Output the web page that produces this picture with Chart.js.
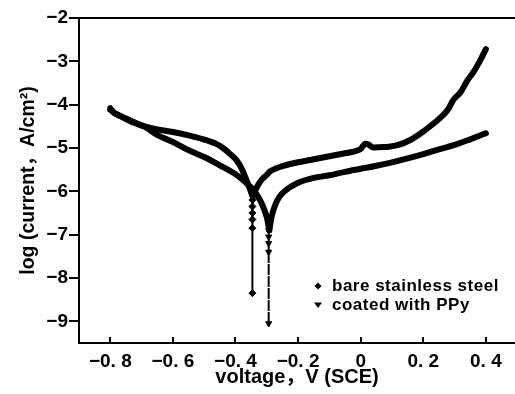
<!DOCTYPE html>
<html>
<head>
<meta charset="utf-8">
<script src="https://cdn.jsdelivr.net/npm/chart.js@4.4.0/dist/chart.umd.min.js"></script>
<style>
  html, body { margin: 0; padding: 0; background: #fff; }
  #wrap { width: 515px; height: 394px; }
</style>
</head>
<body>
<div id="wrap"><canvas id="tafel" width="515" height="394"></canvas></div>
<script>
// Tafel curves: bare steel vs. steel coated with PPy
const xTicks = [-0.8, -0.6, -0.4, -0.2, 0, 0.2, 0.4];
const yTicks = [-9, -8, -7, -6, -5, -4, -3, -2];
const seriesNames = ['bare stainless steel', 'coated with PPy'];

// bare stainless steel — cathodic branch
const bareCathV = [-0.800, -0.790, -0.770, -0.750, -0.720, -0.685, -0.650, -0.600, -0.550, -0.493, -0.460, -0.440, -0.420, -0.397, -0.380, -0.365, -0.355, -0.345];
const bareCathI = [-4.08, -4.18, -4.26, -4.33, -4.43, -4.51, -4.57, -4.63, -4.71, -4.82, -4.91, -5.00, -5.12, -5.28, -5.48, -5.74, -5.92, -6.13];
// bare stainless steel — anodic branch
const bareAnodV = [-0.345, -0.338, -0.330, -0.315, -0.300, -0.290, -0.270, -0.250, -0.200, -0.150, -0.100, -0.050, -0.020, 0.000, 0.015, 0.025, 0.040, 0.060, 0.090, 0.120, 0.160, 0.200, 0.230, 0.255, 0.280, 0.295, 0.320, 0.340, 0.360, 0.380, 0.400];
const bareAnodI = [-6.10, -6.00, -5.88, -5.72, -5.62, -5.54, -5.47, -5.42, -5.33, -5.26, -5.19, -5.12, -5.08, -5.02, -4.90, -4.92, -4.99, -4.98, -4.97, -4.93, -4.81, -4.62, -4.45, -4.30, -4.10, -3.90, -3.70, -3.45, -3.25, -3.00, -2.72];
// bare stainless steel — points at the corrosion potential
const bareDipV = [-0.346, -0.346, -0.346, -0.346, -0.346, -0.346, -0.346];
const bareDipI = [-6.05, -6.20, -6.35, -6.50, -6.65, -6.85, -8.35];

// coated with PPy — cathodic branch
const ppyCathV = [-0.800, -0.780, -0.750, -0.700, -0.685, -0.650, -0.600, -0.550, -0.493, -0.450, -0.397, -0.365, -0.345, -0.330, -0.315, -0.300, -0.292];
const ppyCathI = [-4.12, -4.22, -4.32, -4.48, -4.53, -4.70, -4.86, -5.05, -5.23, -5.40, -5.62, -5.81, -5.95, -6.10, -6.30, -6.60, -6.90];
// coated with PPy — anodic branch
const ppyAnodV = [-0.292, -0.285, -0.275, -0.260, -0.240, -0.220, -0.200, -0.150, -0.100, -0.050, 0.000, 0.050, 0.100, 0.150, 0.200, 0.250, 0.300, 0.350, 0.400];
const ppyAnodI = [-6.90, -6.60, -6.35, -6.13, -5.98, -5.88, -5.80, -5.69, -5.63, -5.55, -5.48, -5.41, -5.33, -5.24, -5.14, -5.03, -4.93, -4.80, -4.66];
// coated with PPy — points at the corrosion potential
const ppyDipV = [-0.294, -0.294, -0.294, -0.294, -0.294, -0.294];
const ppyDipI = [-6.75, -6.90, -7.05, -7.20, -7.40, -9.05];

const FONT = '"Liberation Sans", Arial, "Noto Sans CJK SC", sans-serif';
const toXY = (xs, ys) => xs.map((x, i) => ({ x, y: ys[i] }));
const minus = v => (v < 0 ? '\u2212' : '');

const curve = (label, xs, ys) => ({
    label, data: toXY(xs, ys), showLine: true,
    borderColor: '#000', borderWidth: 6, borderCapStyle: 'round', borderJoinStyle: 'round',
    pointRadius: 0, cubicInterpolationMode: 'monotone',
});

// tramo vertical en el potencial de corrosión; el último segmento puede ir punteado
const dip = (label, xs, ys, style, rot, lastDash) => ({
    label, data: toXY(xs, ys), showLine: true,
    borderColor: '#000', borderWidth: 2,
    segment: { borderDash: c => (c.p1DataIndex === ys.length - 1 ? lastDash : undefined) },
    pointStyle: style, rotation: rot, pointRadius: 3.5,
    pointBackgroundColor: '#000', pointBorderColor: '#000', pointBorderWidth: 1,
});

// marco superior, ticks del eje x hacia dentro y leyenda
const framePlugin = {
    id: 'frame',
    afterDraw(chart) {
        const { ctx, chartArea: a, scales: { x } } = chart;
        ctx.save();
        ctx.strokeStyle = '#000';
        ctx.lineWidth = 2;
        ctx.beginPath();
        ctx.moveTo(a.left, a.top);
        ctx.lineTo(a.right, a.top);
        xTicks.forEach(v => {
            const px = Math.round(x.getPixelForValue(v));
            ctx.moveTo(px, a.bottom);
            ctx.lineTo(px, a.bottom - 6);
        });
        ctx.stroke();

        // leyenda
        const mx = a.left + 239, tx = a.left + 253;
        const y1 = 286, y2 = 305;
        ctx.fillStyle = '#000';
        ctx.beginPath();
        ctx.moveTo(mx, y1 - 3.5); ctx.lineTo(mx + 3.5, y1); ctx.lineTo(mx, y1 + 3.5); ctx.lineTo(mx - 3.5, y1);
        ctx.closePath(); ctx.fill();
        ctx.beginPath();
        ctx.moveTo(mx - 4, y2 - 2.5); ctx.lineTo(mx + 4, y2 - 2.5); ctx.lineTo(mx, y2 + 3);
        ctx.closePath(); ctx.fill();
        ctx.font = 'bold 17px ' + FONT;
        ctx.letterSpacing = '0.5px';
        ctx.textBaseline = 'middle';
        ctx.textAlign = 'left';
        ctx.fillText(seriesNames[0], tx, y1);
        ctx.fillText(seriesNames[1], tx, y2);
        ctx.restore();
    }
};

new Chart(document.getElementById('tafel'), {
    type: 'scatter',
    data: {
        datasets: [
            curve(seriesNames[0], bareCathV, bareCathI),
            curve(seriesNames[0], bareAnodV, bareAnodI),
            dip(seriesNames[0], bareDipV, bareDipI, 'rectRot', 0, undefined),
            curve(seriesNames[1], ppyCathV, ppyCathI),
            curve(seriesNames[1], ppyAnodV, ppyAnodI),
            dip(seriesNames[1], ppyDipV, ppyDipI, 'triangle', 180, [7, 5]),
        ]
    },
    options: {
        responsive: false,
        animation: false,
        layout: { autoPadding: false, padding: { top: 18, right: 0, left: 0, bottom: 0 } },
        plugins: { legend: { display: false }, tooltip: { enabled: false } },
        scales: {
            x: {
                min: -0.9, max: 0.493,
                afterBuildTicks: s => { s.ticks = xTicks.map(value => ({ value })); },
                afterFit: s => { s.height = 51; s.paddingLeft = 0; s.paddingRight = 0; },
                grid: { display: false, drawTicks: false },
                border: { color: '#000', width: 2 },
                ticks: {
                    color: '#000', padding: 7, maxRotation: 0,
                    font: { family: FONT, size: 19, weight: 'bold' },
                    callback: v => v === 0 ? '0' : minus(v) + Math.abs(v).toFixed(1).replace('.', '. ')
                },
                title: {
                    display: true, text: 'voltage\uFF0CV (SCE)', color: '#000',
                    font: { family: FONT, size: 20, weight: 'bold' },
                    padding: { top: 0, bottom: 5 }
                }
            },
            y: {
                min: -9.5, max: -2,
                afterBuildTicks: s => { s.ticks = yTicks.map(value => ({ value })); },
                afterFit: s => { s.width = 79; },
                grid: { drawOnChartArea: false, drawTicks: true, tickLength: 10, color: '#000', lineWidth: 2 },
                border: { color: '#000', width: 2 },
                ticks: {
                    color: '#000', padding: 1,
                    font: { family: FONT, size: 19, weight: 'bold' },
                    callback: v => minus(v) + Math.abs(v)
                },
                title: {
                    display: true, text: 'log (current\uFF0CA/cm\u00B2)', color: '#000',
                    font: { family: FONT, size: 19.5, weight: 'bold' },
                    padding: { top: 17, bottom: 0 }
                }
            }
        }
    },
    plugins: [framePlugin]
});
</script>
</body>
</html>
